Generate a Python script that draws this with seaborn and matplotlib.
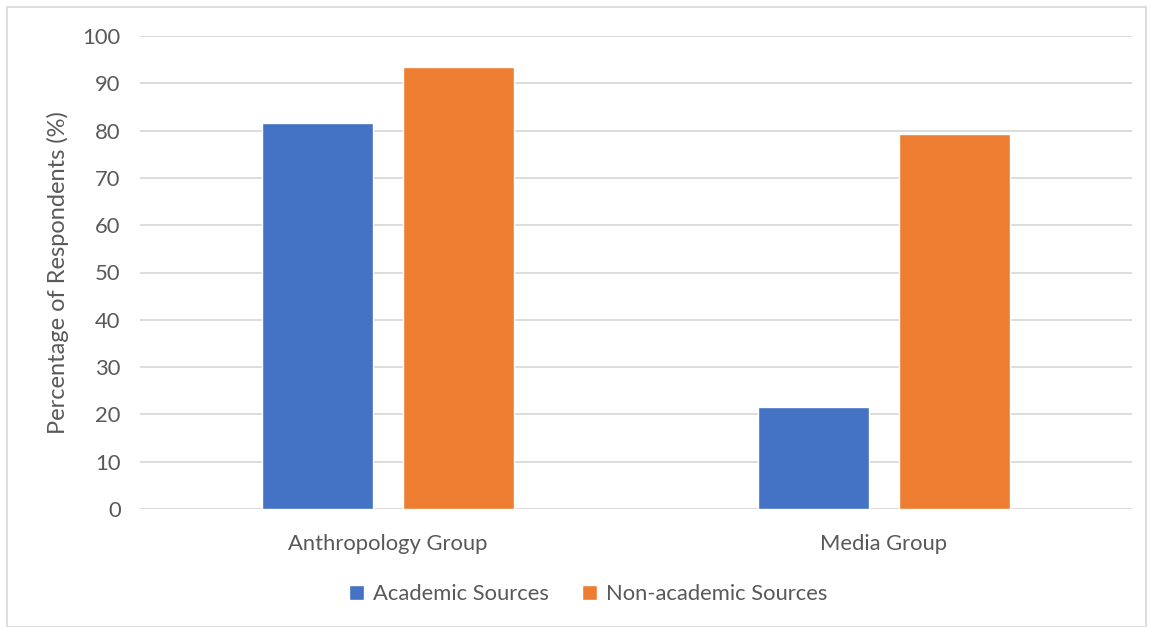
import matplotlib
matplotlib.use("Agg")
import matplotlib.pyplot as plt
from matplotlib.patches import Rectangle
import pandas as pd
import seaborn as sns

# values
groups = ["Anthropology Group", "Media Group"]
sources = ["Academic Sources", "Non-academic Sources"]
academic = [81.6, 21.5]
non_academic = [93.5, 79.2]
y_ticks = [0, 10, 20, 30, 40, 50, 60, 70, 80, 90, 100]

df = pd.DataFrame({
    "group": groups * 2,
    "source": [sources[0]] * len(groups) + [sources[1]] * len(groups),
    "value": academic + non_academic,
})

sns.set_theme(style="white")
plt.rcParams['font.family'] = ['Lato', 'DejaVu Sans']
text_col = "#595959"

fig = plt.figure(figsize=(11.53, 6.27), dpi=100)
ax = fig.add_axes([140 / 1153, 1 - 509 / 627, (1132 - 140) / 1153, (509 - 36) / 627])

sns.barplot(data=df, x="group", y="value", hue="source", order=groups,
            hue_order=sources, palette=["#4472C4", "#ED7D31"],
            width=0.569, gap=0.213, saturation=1, ax=ax, legend=True)

ax.set_ylim(0, 100)
ax.set_xlim(-0.5, 1.5)
ax.set_yticks(y_ticks)
ax.yaxis.grid(True, color="#d9d9d9", linewidth=1.3)
ax.set_axisbelow(True)
for s in ax.spines.values():
    s.set_visible(False)
ax.tick_params(axis="both", length=0, labelsize=15.8, labelcolor=text_col)
ax.tick_params(axis="x", pad=18)
ax.tick_params(axis="y", pad=14)
ax.set_xlabel("")
ax.set_ylabel("Percentage of Respondents (%)", fontsize=17, color=text_col, labelpad=10)

handles, labels = ax.get_legend_handles_labels()
ax.get_legend().remove()
fig.legend(handles, labels, loc="center", bbox_to_anchor=(588 / 1153, 1 - 594 / 627),
           ncol=2, frameon=False, fontsize=15.8, labelcolor=text_col,
           handlelength=0.7, handleheight=0.7, handletextpad=0.4, columnspacing=1.5)

# light outer border like the source chart area
fig.patches.append(Rectangle((7 / 1153, 0), 1139 / 1153, 1 - 7 / 627,
                             transform=fig.transFigure, fill=False,
                             edgecolor="#d9d9d9", linewidth=1.2))

fig.savefig("out.png", dpi=100)
